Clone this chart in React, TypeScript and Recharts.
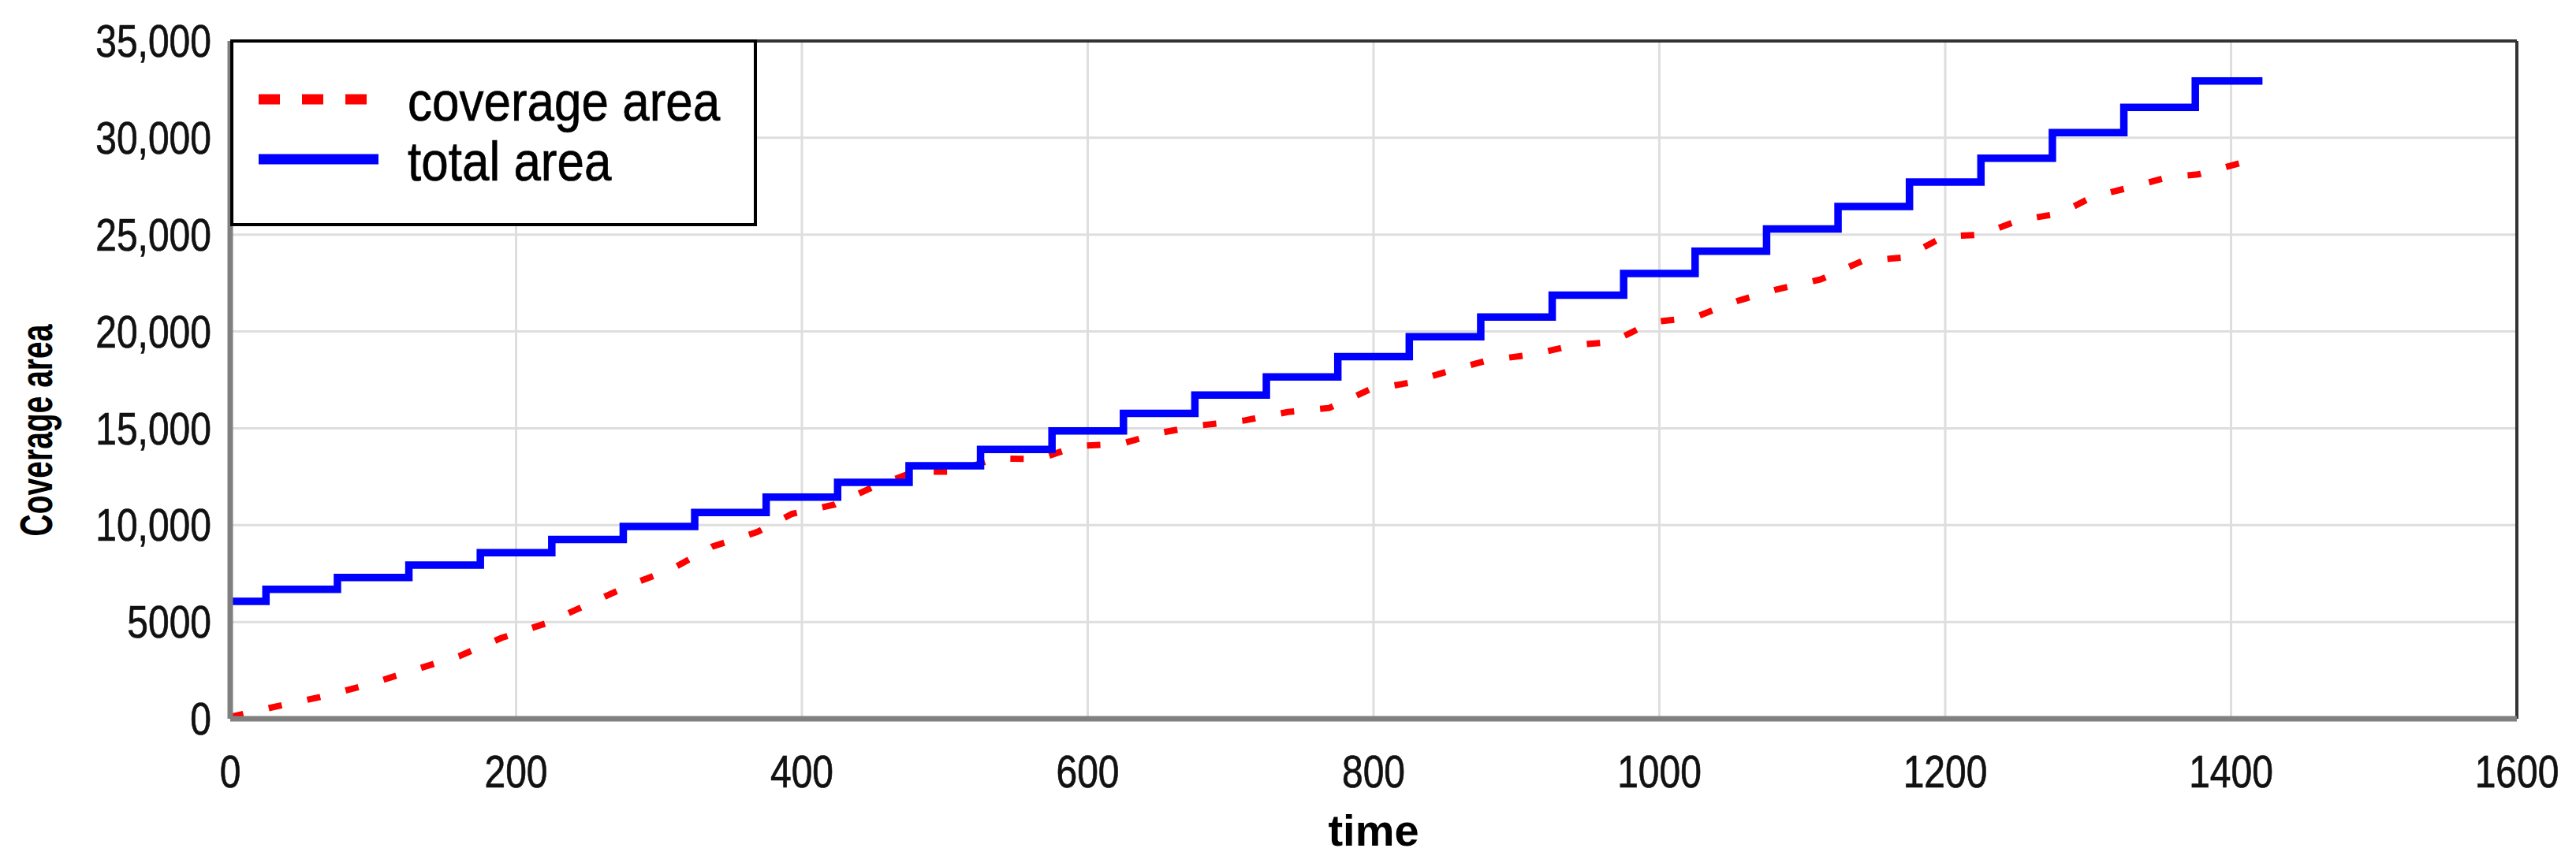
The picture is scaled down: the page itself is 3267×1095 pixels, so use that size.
import React from "react";
import {
  LineChart,
  Line,
  XAxis,
  YAxis,
  CartesianGrid,
  Legend,
  ReferenceLine,
  Label,
} from "recharts";

/* ------------------------------------------------------------------ */
/* Data                                          */
/* ------------------------------------------------------------------ */

const timeTicks = [0, 200, 400, 600, 800, 1000, 1200, 1400, 1600];
const areaTicks = [0, 5000, 10000, 15000, 20000, 25000, 30000, 35000];

// total area: step series, one step every 50 time units
const totalTime = [
  0, 25, 75, 125, 175, 225, 275, 325, 375, 425, 475, 525, 575, 625, 675, 725,
  775, 825, 875, 925, 975, 1025, 1075, 1125, 1175, 1225, 1275, 1325, 1375, 1422,
];
const totalArea = [
  6060, 6680, 7290, 7940, 8580, 9260, 9930, 10650, 11450, 12210, 13060, 13910,
  14860, 15770, 16720, 17650, 18700, 19730, 20750, 21880, 22990, 24140, 25290,
  26450, 27720, 28950, 30270, 31570, 32930, 32930,
];

// coverage area: sampled along the dashed curve
const coverageTime = [
  0, 36, 67, 99, 130, 160, 190, 221, 251, 280, 310, 337, 369, 393, 423, 450,
  479, 508, 535, 566, 593, 623, 651, 680, 710, 740, 769, 797, 825, 853, 881,
  911, 940, 967, 995, 1024, 1054, 1082, 1113, 1142, 1172, 1199, 1225, 1252,
  1280, 1304, 1330, 1356, 1377, 1412,
];
const coverageArea = [
  100, 700, 1190, 1820, 2550, 3230, 4180, 4930, 5930, 6920, 7770, 8880, 9650,
  10580, 11060, 11970, 12760, 12760, 13440, 13410, 14090, 14190, 14770, 15160,
  15410, 15840, 16050, 16990, 17350, 17960, 18530, 18800, 19290, 19460, 20480,
  20710, 21560, 22170, 22690, 23640, 23830, 24900, 25000, 25750, 26090, 26980,
  27450, 27970, 28110, 28800,
];

const totalData = totalTime.map((t, i) => ({ time: t, total: totalArea[i] }));
const coverageData = coverageTime.map((t, i) => ({ time: t, coverage: coverageArea[i] }));

/* ------------------------------------------------------------------ */
/* Text helpers                                                         */
/* ------------------------------------------------------------------ */

const FONT = "'Liberation Sans', Arial, sans-serif";

const fmtArea = (v: number) => (v >= 10000 ? v.toLocaleString("en-US") : String(v));

const XTick = ({ x, y, payload }: any) => (
  <text
    transform={`translate(${x},${y + 61}) scale(1,1.2)`}
    textAnchor="middle"
    dominantBaseline="central"
    fontSize={48}
    fontFamily={FONT}
    fill="#111"
    stroke="#111"
    strokeWidth={0.6}
  >
    {payload.value}
  </text>
);

const YTick = ({ x, y, payload }: any) => (
  <text
    transform={`translate(${x},${y}) scale(1,1.2)`}
    textAnchor="end"
    dominantBaseline="central"
    fontSize={48}
    fontFamily={FONT}
    fill="#111"
    stroke="#111"
    strokeWidth={0.6}
  >
    {fmtArea(payload.value)}
  </text>
);

const XTitle = (props: any) => {
  const vb = props.viewBox ?? { x: 292, y: 912, width: 2900, height: 183 };
  return (
    <text
      x={vb.x + vb.width / 2}
      y={vb.y + 161}
      textAnchor="middle"
      fontSize={56}
      fontWeight="bold"
      fontFamily={FONT}
      fill="#000"
    >
      time
    </text>
  );
};

const YTitle = (props: any) => {
  const vb = props.viewBox ?? { x: 42, y: 52, width: 250, height: 860 };
  const cx = vb.x + 4;
  const cy = vb.y + vb.height / 2 + 64;
  return (
    <text
      transform={`translate(${cx},${cy}) rotate(-90) scale(1,1.45)`}
      textAnchor="middle"
      dominantBaseline="central"
      fontSize={39}
      fontWeight="bold"
      fontFamily={FONT}
      fill="#000"
    >
      Coverage area
    </text>
  );
};

const LegendBox = ({ payload }: any) => (
  <div
    style={{
      width: 668,
      height: 237,
      boxSizing: "border-box",
      border: "4px solid #000",
      background: "#fff",
    }}
  >
    <svg width={660} height={229}>
      {(payload || []).map((entry: any, i: number) => {
        const cy = 72 + i * 76;
        const dash = entry.payload?.strokeDasharray;
        return (
          <g key={entry.value}>
            <line
              x1={32}
              x2={dash ? 170 : 184}
              y1={cy}
              y2={cy}
              stroke={entry.color}
              strokeWidth={13}
              strokeDasharray={dash ? "27 28" : undefined}
            />
            <text
              transform={`translate(221,${cy + 2}) scale(1,1.15)`}
              dominantBaseline="central"
              fontSize={62}
              fontFamily={FONT}
              fill="#000"
              stroke="#000"
              strokeWidth={0.6}
            >
              {entry.value}
            </text>
          </g>
        );
      })}
    </svg>
  </div>
);

/* ------------------------------------------------------------------ */
/* Chart                                                                */
/* ------------------------------------------------------------------ */

export default function App() {
  return (
    <div style={{ position: "absolute", left: 0, top: 0, width: 3267, height: 1095, background: "#fff" }}>
      <LineChart width={3267} height={1095} margin={{ top: 52, right: 75, left: 42, bottom: 0 }}>
        <CartesianGrid stroke="#dedede" strokeWidth={3} />
        <XAxis
          dataKey="time"
          type="number"
          domain={[0, 1600]}
          ticks={timeTicks}
          height={183}
          tickLine={false}
          tickMargin={0}
          tick={<XTick />}
          axisLine={{ stroke: "#808080", strokeWidth: 7 }}
          allowDuplicatedCategory={false}
        >
          <Label content={<XTitle />} />
        </XAxis>
        <YAxis
          type="number"
          domain={[0, 35000]}
          ticks={areaTicks}
          width={250}
          tickLine={false}
          tickMargin={18}
          tick={<YTick />}
          axisLine={{ stroke: "#808080", strokeWidth: 7 }}
        >
          <Label content={<YTitle />} />
        </YAxis>
        <ReferenceLine y={35000} stroke="#333" strokeWidth={4} />
        <ReferenceLine x={1600} stroke="#333" strokeWidth={4} />
        <Legend
          layout="vertical"
          align="center"
          verticalAlign="middle"
          content={<LegendBox />}
          wrapperStyle={{ left: 292, top: 50, width: 668, height: 237 }}
        />
        <Line
          data={coverageData}
          dataKey="coverage"
          name="coverage area"
          type="linear"
          stroke="#ff0000"
          strokeWidth={8}
          strokeDasharray="17 33"
          dot={false}
          activeDot={false}
          isAnimationActive={false}
        />
        <Line
          data={totalData}
          dataKey="total"
          name="total area"
          type="stepAfter"
          stroke="#0000ff"
          strokeWidth={9.5}
          dot={false}
          activeDot={false}
          isAnimationActive={false}
        />
      </LineChart>
    </div>
  );
}
